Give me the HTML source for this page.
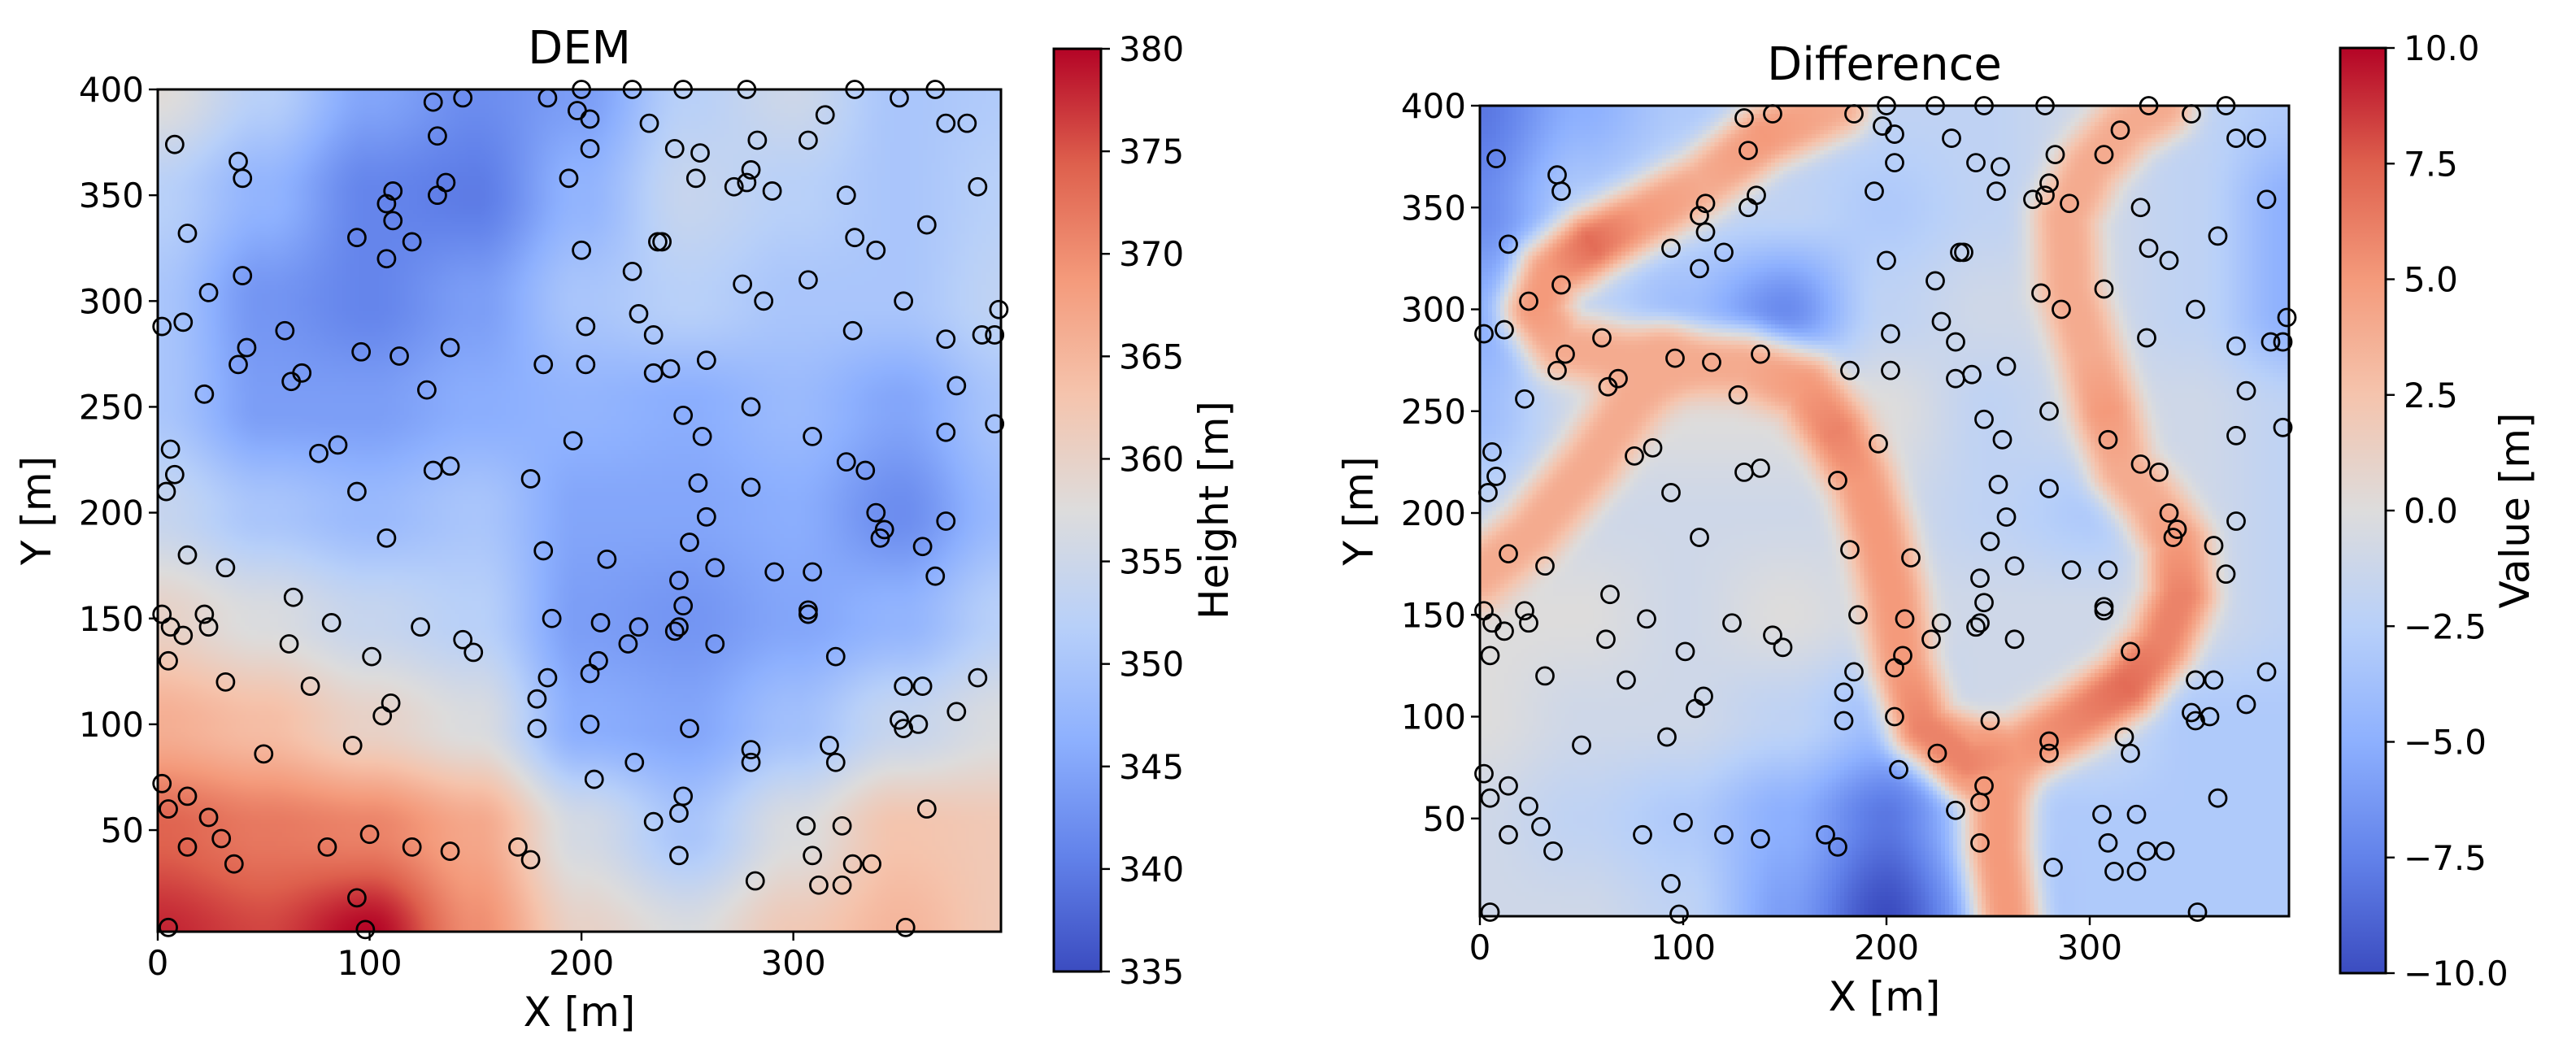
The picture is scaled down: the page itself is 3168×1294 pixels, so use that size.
<!DOCTYPE html>
<html><head><meta charset="utf-8">
<style>
html,body{margin:0;padding:0;background:#fff;}
#wrap{position:relative;width:3168px;height:1294px;overflow:hidden;}
canvas{position:absolute;}
svg{position:absolute;left:0;top:0;}
text{font-family:"DejaVu Sans","Liberation Sans",sans-serif;fill:#000;}
</style></head>
<body>
<div id="wrap">
<canvas id="demCanvas" width="200" height="200" style="left:194px;top:110px;width:1037px;height:1036px;"></canvas>
<canvas id="diffCanvas" width="200" height="200" style="left:1820px;top:130px;width:995px;height:997px;image-rendering:pixelated;"></canvas>
<svg id="svg" width="3168" height="1294" xmlns="http://www.w3.org/2000/svg">
<defs>
<linearGradient id="cbgrad" x1="0" y1="1" x2="0" y2="0"></linearGradient>
</defs>
</svg>
</div>
<script>
// ---------- data ----------
const xTicks = [0, 100, 200, 300];
const yTicks = [50, 100, 150, 200, 250, 300, 350, 400];
const demTicks = [335, 340, 345, 350, 355, 360, 365, 370, 375, 380];
const diffTicks = [-10, -7.5, -5, -2.5, 0, 2.5, 5, 7.5, 10];
const diffTickLabels = ["\u221210.0","\u22127.5","\u22125.0","\u22122.5","0.0","2.5","5.0","7.5","10.0"];
// DEM coarse grid (rows y=400..0 step 50, cols x=0..400 step 50)
const demGrid = [
[358,352,345,342,344,352,355,350,351],
[352,347,341,340,347,354,352,350,352],
[350,343,341,344,350,352,350,350,353],
[350,344,344,346,347,346,348,345,350],
[354,350,348,350,345,345,346,342,348],
[360,357,354,352,344,343,345,347,352],
[366,364,360,357,346,345,349,354,357],
[374,372,371,367,356,350,357,363,362],
[378,376,380,370,360,357,362,365,362]
];
// Difference background grid
const diffGrid = [
[-8,-5,-3,-2,-2,-2,-1,-2,-3],
[-7,-3,-2,-2,-3,-2,-1,-2,-5],
[-5,-2,-4,-7,-2,-1,-1,-2,-5],
[-4,-1,0,0,0,-2,-1,-1,-2],
[-2,-1,-1,-1,-1,-2,-3,-1,-2],
[0,0,-1,0,-1,-1,-1,-1,-2],
[0,-1,-1,-2,-4,-1,-1,-3,-3],
[-1,-2,-3,-5,-8,-3,-3,-3,-3],
[-1,-1,-2,-6,-10,-5,-3,-3,-3]
];
// Ridges in difference map: x, y, amplitude
const ridge1X = [175,140,110,80,55,35,28,40,80,130,160,175,188,196,203,208,218,240,265,295,318,335,345,343,330,316,308,300,290,288,300,318,335];
const ridge1Y = [400,385,362,345,332,318,300,282,274,272,262,240,215,190,160,125,95,78,82,100,115,135,160,185,205,222,250,278,310,345,370,390,400];
const ridge1A = [4,5,4,5,7,5,5,4,4,4,5,6,5,5,5,5,6,6,5,6,7,6,6,5,4,4,5,4,4,4,4,4,4];
const ridge2X = [245,255,255,260];
const ridge2Y = [80,62,35,0];
const ridge2A = [5,5,5,5];
const ridge3X = [0,25,55,75,90];
const ridge3Y = [170,190,225,255,274];
const ridge3A = [4,4,4,4,4];
// Sample points
const ptsX = [8,38,40,14,40,24,2,12,60,42,38,63,68,22,6,8,4,14,32,64,2,22,6,24,12,5,32,62,82,72,50,92,101,106,110,2,5,14,24,30,14,36,80,100,94,5,98,120,138,170,176,124,144,149,108,130,138,94,76,85,127,114,96,138,108,111,120,94,108,111,132,136,132,130,144,184,198,204,200,224,248,278,329,367,350,372,382,387,363,315,307,283,280,278,272,290,256,244,254,232,204,194,200,236,238,224,227,234,234,242,259,276,286,307,325,329,339,352,372,389,395,397,377,395,372,328,309,280,248,257,255,259,280,325,334,339,343,341,361,372,367,291,309,263,251,246,248,244,246,227,222,212,196,202,202,182,176,182,186,209,184,179,179,204,208,204,206,225,251,263,307,307,320,352,361,387,377,350,352,359,317,320,280,280,248,246,234,246,282,306,323,309,328,337,312,323,363,353];
const ptsY = [374,366,358,332,312,304,288,290,286,278,270,262,266,256,230,218,210,180,174,160,152,152,146,146,142,130,120,138,148,118,86,90,132,104,110,72,60,66,56,46,42,34,42,48,18,4,3,42,40,42,36,146,140,134,188,220,222,210,228,232,258,274,276,278,320,338,328,330,346,352,350,356,378,394,396,396,390,386,400,400,400,400,400,400,396,384,384,354,336,388,376,376,362,356,354,352,370,372,358,384,372,358,324,328,328,314,294,284,266,268,272,308,300,310,350,330,324,300,282,284,284,296,260,242,238,286,236,250,246,236,214,198,212,224,220,200,192,188,184,196,170,172,172,174,186,168,156,144,146,146,138,178,234,288,270,270,216,182,150,148,122,112,98,124,130,100,74,82,98,138,154,152,132,118,118,122,106,102,98,100,90,82,88,82,66,58,54,38,26,52,52,38,34,34,24,24,60,4];

// ---------- helpers ----------
const cmapStops = [[59,76,192],[98,130,234],[141,176,254],[184,208,249],[221,220,220],[245,196,173],[244,154,123],[222,96,77],[180,4,38]];
function cmap(t){
  t = Math.max(0, Math.min(1, t));
  const f = t * 8, i = Math.min(7, Math.floor(f)), r = f - i;
  const a = cmapStops[i], b = cmapStops[i+1];
  return [a[0]+(b[0]-a[0])*r, a[1]+(b[1]-a[1])*r, a[2]+(b[2]-a[2])*r];
}
function gridSample(g, x, y){
  const gx = Math.max(0, Math.min(7.9999, x/50));
  const gy = Math.max(0, Math.min(7.9999, (400-y)/50));
  const i = Math.floor(gx), j = Math.floor(gy), fx = gx-i, fy = gy-j;
  const s = t => t*t*(3-2*t);
  const sx = s(fx), sy = s(fy);
  const top = g[j][i]*(1-sx)+g[j][i+1]*sx;
  const bot = g[j+1][i]*(1-sx)+g[j+1][i+1]*sx;
  return top*(1-sy)+bot*sy;
}
const XMIN = 0, XMAX = 398, YMIN = 2, YMAX = 400;
function makeAxis(L, T, W, H){
  return {
    sx: v => L + (v - XMIN) / (XMAX - XMIN) * W,
    sy: v => T + (YMAX - v) / (YMAX - YMIN) * H,
    L, T, W, H
  };
}
const svg = document.getElementById('svg');
const NS = 'http://www.w3.org/2000/svg';
function el(tag, attrs, parent){
  const e = document.createElementNS(NS, tag);
  for (const k in attrs) e.setAttribute(k, attrs[k]);
  (parent || svg).appendChild(e);
  return e;
}

// ---------- heatmaps ----------
function drawDem(){
  const c = document.getElementById('demCanvas'), ctx = c.getContext('2d');
  const N = 200, img = ctx.createImageData(N, N);
  for (let r = 0; r < N; r++) for (let q = 0; q < N; q++){
    const x = XMIN + (q+0.5)/N*(XMAX-XMIN), y = YMAX - (r+0.5)/N*(YMAX-YMIN);
    const v = gridSample(demGrid, x, y);
    const col = cmap((v-335)/45), k = (r*N+q)*4;
    img.data[k]=col[0]; img.data[k+1]=col[1]; img.data[k+2]=col[2]; img.data[k+3]=255;
  }
  ctx.putImageData(img, 0, 0);
}
function ridgeInfluence(xs, ys, as, x, y){
  let best = 1e9, amp = 0;
  for (let i = 0; i < xs.length-1; i++){
    const ax = xs[i], ay = ys[i], bx = xs[i+1], by = ys[i+1];
    const dx = bx-ax, dy = by-ay, L2 = dx*dx+dy*dy;
    let t = L2 ? ((x-ax)*dx+(y-ay)*dy)/L2 : 0;
    t = Math.max(0, Math.min(1, t));
    const px = ax+t*dx, py = ay+t*dy, d2 = (x-px)*(x-px)+(y-py)*(y-py);
    if (d2 < best){ best = d2; amp = as[i]*(1-t)+as[i+1]*t; }
  }
  return [best, amp];
}
function drawDiff(){
  const c = document.getElementById('diffCanvas'), ctx = c.getContext('2d');
  const N = 200, img = ctx.createImageData(N, N), sig = 14;
  const ridges = [[ridge1X,ridge1Y,ridge1A],[ridge2X,ridge2Y,ridge2A],[ridge3X,ridge3Y,ridge3A]];
  for (let r = 0; r < N; r++) for (let q = 0; q < N; q++){
    const x = XMIN + (q+0.5)/N*(XMAX-XMIN), y = YMAX - (r+0.5)/N*(YMAX-YMIN);
    let v = gridSample(diffGrid, x, y);
    for (const rd of ridges){
      const [d2, a] = ridgeInfluence(rd[0], rd[1], rd[2], x, y);
      const u = d2/(sig*sig);
      const w = Math.exp(-0.5*u*Math.sqrt(u));
      v = v*(1-w) + Math.max(v, a)*w;
    }
    const col = cmap((v+10)/20), k = (r*N+q)*4;
    img.data[k]=col[0]; img.data[k+1]=col[1]; img.data[k+2]=col[2]; img.data[k+3]=255;
  }
  ctx.putImageData(img, 0, 0);
}
drawDem();
drawDiff();

// colorbar gradient
const grad = document.getElementById('cbgrad');
for (let i = 0; i <= 8; i++){
  const s = cmapStops[i];
  el('stop', {offset: (i/8*100)+'%', 'stop-color': 'rgb('+s.join(',')+')'}, grad);
}

// ---------- axes ----------
function drawPanel(ax, title, titleY, ylabX, xlabY, prefix){
  const g = el('g', {});
  
  
  const pg = el('g', {}, g);
  
  
  for (let i = 0; i < ptsX.length; i++){
    const c = el('circle', {cx: ax.sx(ptsX[i]), cy: ax.sy(ptsY[i]), r: 10.5, fill: 'none', stroke: '#000', 'stroke-width': 2.8}, pg);
    
    
  }
  const fr = el('rect', {x: ax.L, y: ax.T, width: ax.W, height: ax.H, fill: 'none', stroke: '#000', 'stroke-width': 3}, g);
  
  
  for (const t of xTicks){
    const x = ax.sx(t);
    el('line', {x1: x, y1: ax.T+ax.H, x2: x, y2: ax.T+ax.H+11, stroke: '#000', 'stroke-width': 2.4}, g);
    const tx = el('text', {x: x, y: ax.T+ax.H+53, 'font-size': 42, 'text-anchor': 'middle'}, g);
    tx.textContent = String(t);
    
    
  }
  for (const t of yTicks){
    const y = ax.sy(t);
    el('line', {x1: ax.L-11, y1: y, x2: ax.L, y2: y, stroke: '#000', 'stroke-width': 2.4}, g);
    const tx = el('text', {x: ax.L-17, y: y+15, 'font-size': 42, 'text-anchor': 'end'}, g);
    tx.textContent = String(t);
    
    
  }
  const tt = el('text', {x: ax.L+ax.W/2, y: titleY, 'font-size': 56, 'text-anchor': 'middle'}, g);
  tt.textContent = title;
  
  
  const xl = el('text', {x: ax.L+ax.W/2, y: xlabY, 'font-size': 50, 'text-anchor': 'middle'}, g);
  xl.textContent = 'X [m]';
  
  
  const cy = ax.T+ax.H/2;
  const yl = el('text', {x: ylabX, y: cy, 'font-size': 50, 'text-anchor': 'middle', transform: 'rotate(-90 '+ylabX+' '+cy+')'}, g);
  yl.textContent = 'Y [m]';
  
  
}
function drawColorbar(L, T, W, H, ticks, labels, vmin, vmax, label, labelX, prefix){
  const g = el('g', {});
  
  
  el('rect', {x: L, y: T, width: W, height: H, fill: 'url(#cbgrad)', stroke: '#000', 'stroke-width': 3}, g);
  for (let i = 0; i < ticks.length; i++){
    const y = T + (vmax - ticks[i])/(vmax - vmin)*H;
    el('line', {x1: L+W, y1: y, x2: L+W+11, y2: y, stroke: '#000', 'stroke-width': 2.4}, g);
    const tx = el('text', {x: L+W+22, y: y+15, 'font-size': 42}, g);
    tx.textContent = labels[i];
    
    
  }
  const cy = T+H/2;
  const lb = el('text', {x: labelX, y: cy, 'font-size': 50, 'text-anchor': 'middle', transform: 'rotate(-90 '+labelX+' '+cy+')'}, g);
  lb.textContent = label;
  
  
}
const axL = makeAxis(194, 110, 1037, 1036);
const axR = makeAxis(1820, 130, 995, 997);
drawPanel(axL, 'DEM', 78, 62, 1262, 'dem');
drawPanel(axR, 'Difference', 98, 1688, 1243, 'difference');
drawColorbar(1296, 60, 58, 1135, demTicks, demTicks.map(String), 335, 380, 'Height [m]', 1510, 'dem');
drawColorbar(2878, 59, 56, 1138, diffTicks, diffTickLabels, -10, 10, 'Value [m]', 3110, 'difference');
</script>
</body></html>
